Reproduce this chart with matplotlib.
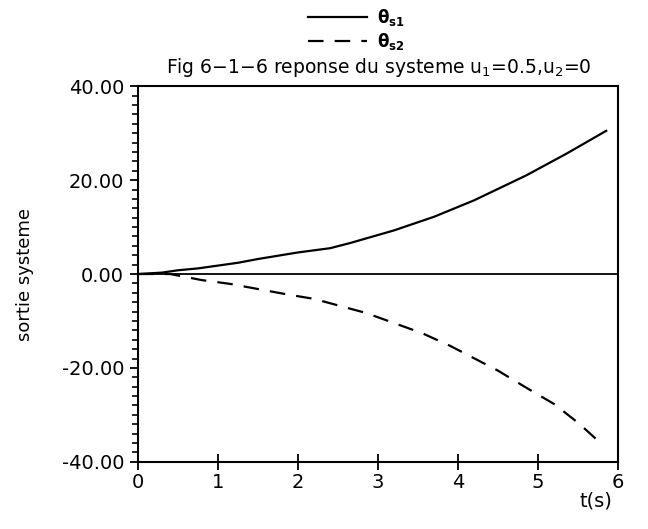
import matplotlib.pyplot as plt
from matplotlib.ticker import MultipleLocator, FormatStrFormatter

# values
t_s1 = [0, 0.3, 0.5, 0.75, 1.0, 1.25, 1.5, 2.0, 2.4, 2.65, 3.2, 3.7, 4.2, 4.85, 5.35, 5.85]
theta_s1 = [0, 0.3, 0.8, 1.2, 1.8, 2.4, 3.2, 4.6, 5.5, 6.6, 9.3, 12.2, 15.7, 21.0, 25.6, 30.5]

t_s2 = [0, 0.4, 0.8, 1.15, 1.5, 1.85, 2.2, 2.85, 3.55, 3.9, 4.5, 4.85, 5.2, 5.5, 5.78]
theta_s2 = [0, 0, -1.3, -2.1, -3.2, -4.3, -5.3, -8.3, -12.6, -15.3, -20.6, -24.2, -27.7, -31.7, -36.0]

y_ticks = [-40, -20, 0, 20, 40]
x_ticks = [0, 1, 2, 3, 4, 5, 6]

plt.rcParams['font.family'] = 'DejaVu Sans'

fig = plt.figure(figsize=(6.48, 5.29), dpi=100)
ax = fig.add_axes([0.213, 0.127, 0.741, 0.71])

l1, = ax.plot(t_s1, theta_s1, color='black', lw=1.6)
l2, = ax.plot(t_s2, theta_s2, color='black', lw=1.6, ls=(0, (7, 5)))
ax.axhline(0, color='black', lw=1.3)

ax.set_xlim(0, 6)
ax.set_ylim(-40, 40)
ax.set_xticks(x_ticks)
ax.set_yticks(y_ticks)
ax.yaxis.set_major_formatter(FormatStrFormatter('%.2f'))
ax.yaxis.set_minor_locator(MultipleLocator(2))

for s in ax.spines.values():
    s.set_linewidth(1.5)

ax.tick_params(axis='y', which='major', direction='out', length=6, width=1.3, labelsize=14, pad=4)
ax.tick_params(axis='y', which='minor', direction='out', length=4, width=1.2)
ax.tick_params(axis='x', which='major', direction='inout', length=12, width=1.3, labelsize=14, pad=2)

ax.set_ylabel('sortie systeme', fontsize=13, labelpad=20)
fig.text(0.945, 0.035, 't(s)', fontsize=14, ha='right', va='bottom')

fig.text(0.585, 0.85, 'Fig 6\u22121\u22126 reponse du systeme u$_1$=0.5,u$_2$=0',
         fontsize=13.5, ha='center', va='bottom')

fig.legend([l1, l2], [r'$\mathbf{\theta_{s1}}$', r'$\mathbf{\theta_{s2}}$'],
           loc='upper center', bbox_to_anchor=(0.55, 1.015), frameon=False,
           handlelength=3.5, fontsize=12, labelspacing=0.15, handletextpad=0.6)

fig.savefig('out.png', dpi=100)
